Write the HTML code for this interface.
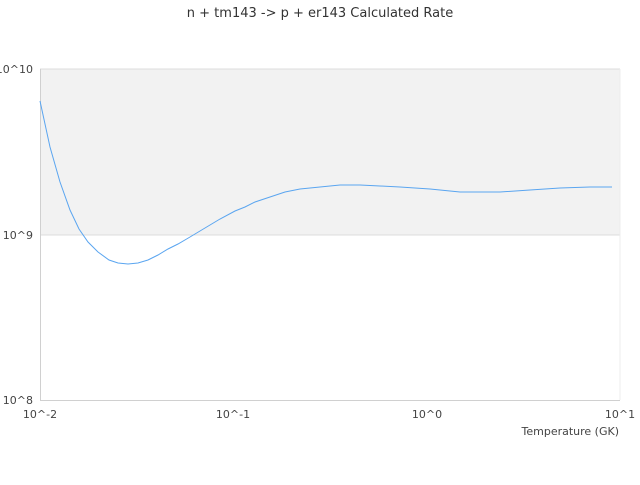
<!DOCTYPE html>
<html><head><style>body{margin:0;background:#fff}</style></head><body>
<svg width="640" height="480" xmlns="http://www.w3.org/2000/svg" font-family="DejaVu Sans, Liberation Sans, sans-serif">
<rect x="0" y="0" width="640" height="480" fill="#fff"/>
<rect x="40" y="69" width="580" height="166" fill="#f2f2f2"/>
<line x1="40" y1="69" x2="620" y2="69" stroke="#dcdcdc"/>
<line x1="40" y1="235" x2="620" y2="235" stroke="#dcdcdc"/>
<line x1="40.5" y1="69" x2="40.5" y2="400" stroke="#d0d0d0"/>
<line x1="40" y1="400.5" x2="620" y2="400.5" stroke="#d0d0d0"/>
<line x1="620" y1="69" x2="620" y2="400" stroke="#ececec"/>
<text x="320" y="17" text-anchor="middle" font-size="13" fill="#333">n + tm143 -&gt; p + er143 Calculated Rate</text>
<g font-size="11" fill="#444" text-anchor="end">
<text x="33" y="73">10^10</text>
<text x="33" y="239">10^9</text>
<text x="33" y="404">10^8</text>
</g>
<g font-size="11" fill="#444" text-anchor="middle">
<text x="40" y="418">10^-2</text>
<text x="233" y="418">10^-1</text>
<text x="427" y="418">10^0</text>
<text x="620" y="418">10^1</text>
</g>
<text x="619" y="435" font-size="11" fill="#444" text-anchor="end">Temperature (GK)</text>
<polyline fill="none" stroke="#5aa5f0" stroke-width="1" points="40,101 50,147 60,182 70,210 79,229 88,242 98,252 109,260 118,263 128,264 138,263 148,260 158,255 168,249 178,244 190,237 205,228 220,219 235,211 245,207 255,202 270,197 285,192 300,189 320,187 340,185 360,185 380,186 400,187 430,189 460,192 500,192 530,190 560,188 590,187 612,187"/>
</svg>
</body></html>
